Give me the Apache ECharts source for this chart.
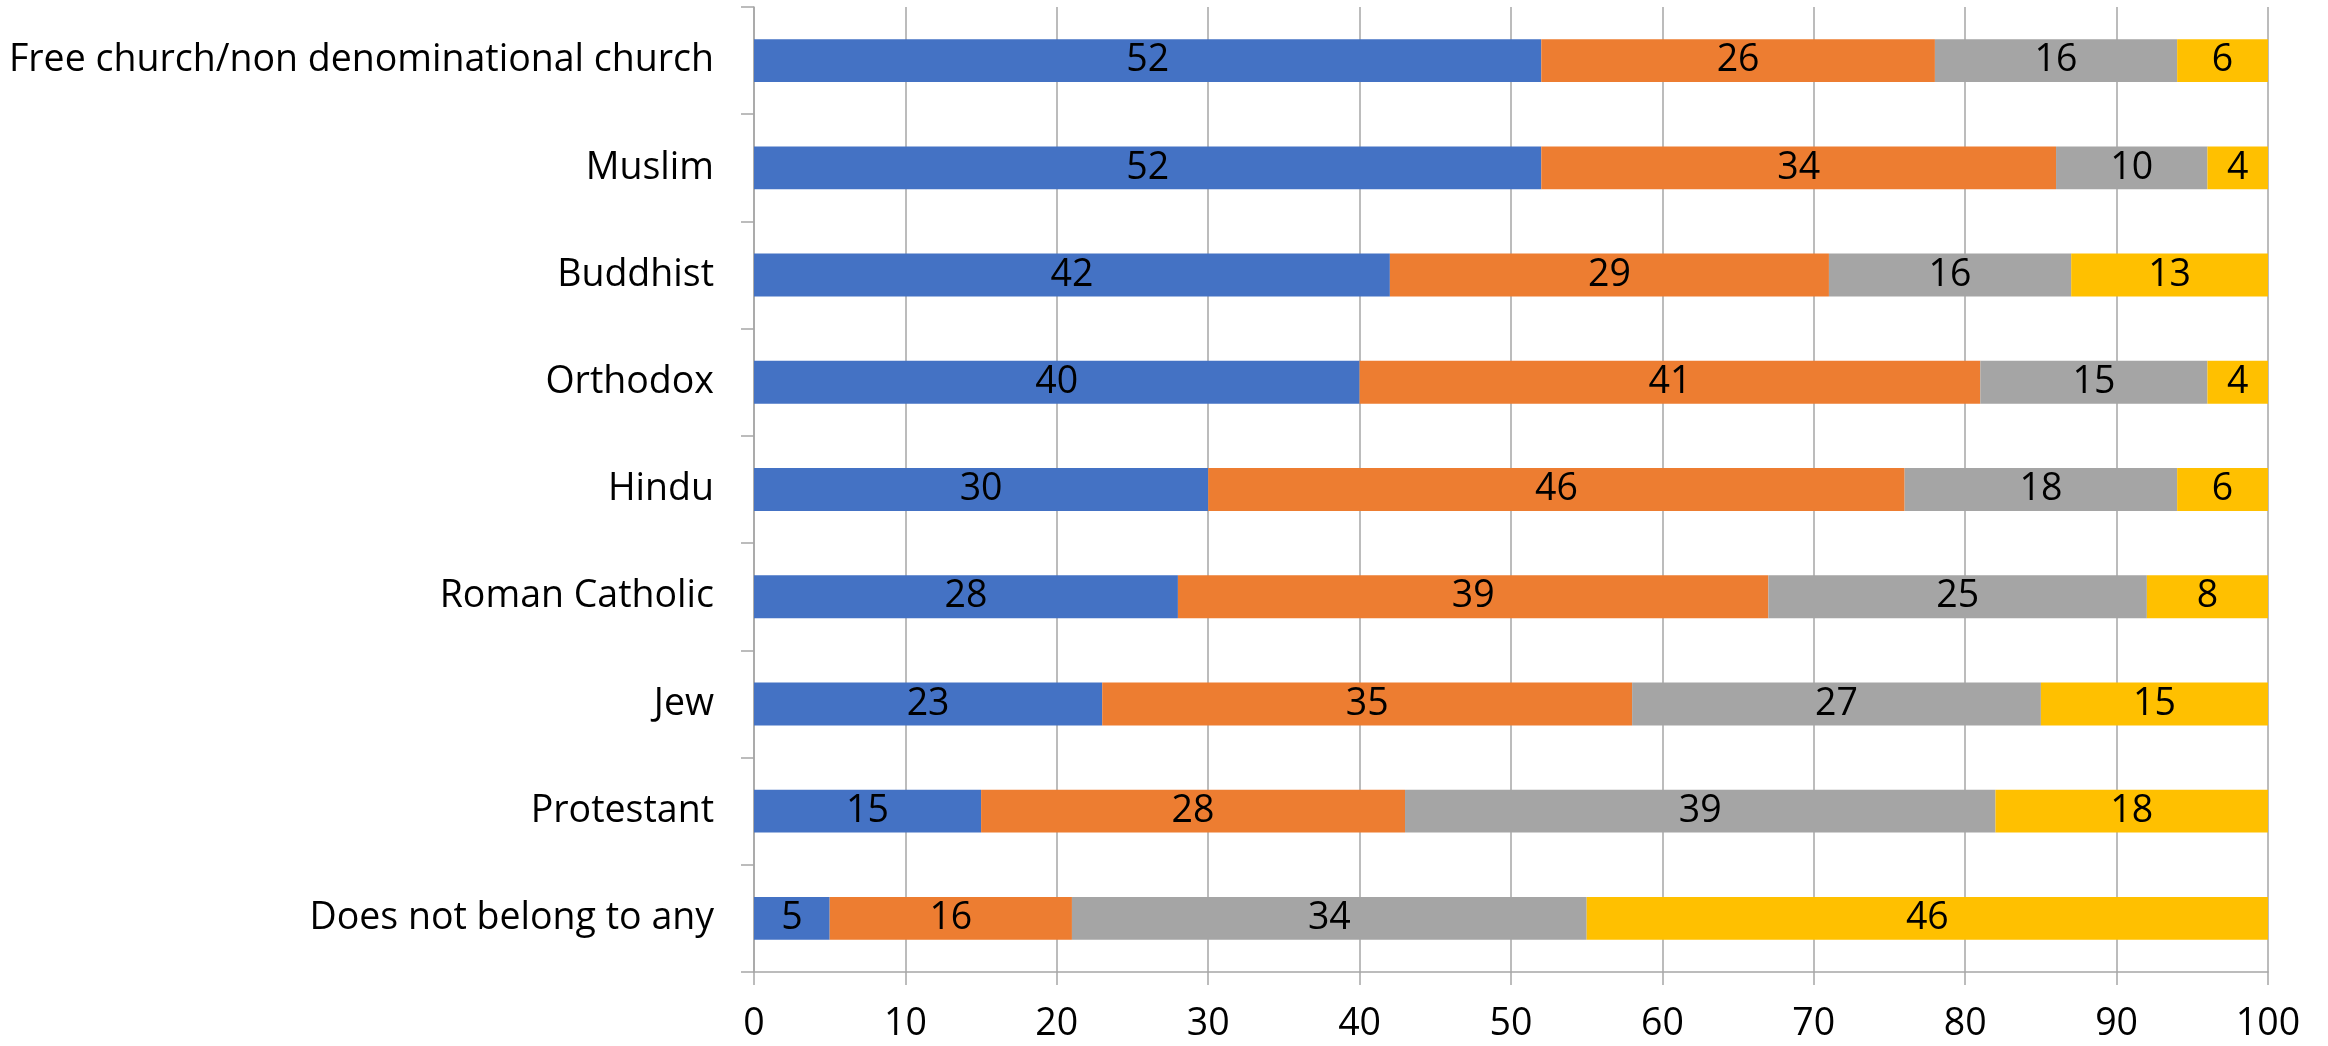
<!DOCTYPE html>
<html>
<head>
<meta charset="utf-8">
<script src="https://cdn.jsdelivr.net/npm/echarts@6/dist/echarts.min.js"></script>
<style>
html,body{margin:0;padding:0;background:#fff;}
#chart{width:2328px;height:1046px;}
</style>
</head>
<body>
<div id="chart"></div>
<script>
const categories = ["Does not belong to any","Protestant","Jew","Roman Catholic","Hindu","Orthodox","Buddhist","Muslim","Free church/non denominational church"];
const series1 = [5,15,23,28,30,40,42,52,52];
const series2 = [16,28,35,39,46,41,29,34,26];
const series3 = [34,39,27,25,18,15,16,10,16];
const series4 = [46,18,15,8,6,4,13,4,6];
const seriesNames = ["Series 1","Series 2","Series 3","Series 4"];
const colors = ["#4472C4","#ED7D31","#A5A5A5","#FFC000"];
const xTicks = [0,10,20,30,40,50,60,70,80,90,100];

const FONT = "Open Sans";
const FS = 37.5;
const chart = echarts.init(document.getElementById('chart'), null, {renderer:'canvas'});
const gray = '#A6A6A6';
function mk(name, data, color){
  return {
    name: name, type: 'bar', stack: 'total', data: data, barWidth: '40%', clip: true,
    itemStyle: {color: color},
    label: {show: true, position: 'inside', color: '#000', fontFamily: FONT, fontSize: FS},
    emphasis: {disabled: true}, animation: false
  };
}
chart.setOption({
  animation: false,
  grid: {left: 754, right: 60, top: 7, bottom: 74, containLabel: false, outerBoundsMode: 'none'},
  xAxis: {
    type: 'value', min: xTicks[0], max: xTicks[xTicks.length-1], interval: 10,
    axisLine: {show: true, lineStyle: {color: gray, width: 1.5}},
    axisTick: {show: true, length: 13, lineStyle: {color: gray, width: 1.5}},
    splitLine: {show: true, lineStyle: {color: gray, width: 1.5}},
    axisLabel: {color: '#000', fontFamily: FONT, fontSize: FS, margin: 33}
  },
  yAxis: {
    type: 'category', data: categories,
    axisLine: {show: true, lineStyle: {color: gray, width: 1.5}},
    axisTick: {show: true, length: 13, lineStyle: {color: gray, width: 1.5}},
    splitLine: {show: false},
    axisLabel: {color: '#000', fontFamily: FONT, fontSize: FS, margin: 40}
  },
  series: [
    mk(seriesNames[0], series1, colors[0]),
    mk(seriesNames[1], series2, colors[1]),
    mk(seriesNames[2], series3, colors[2]),
    mk(seriesNames[3], series4, colors[3])
  ]
});
</script>
</body>
</html>
